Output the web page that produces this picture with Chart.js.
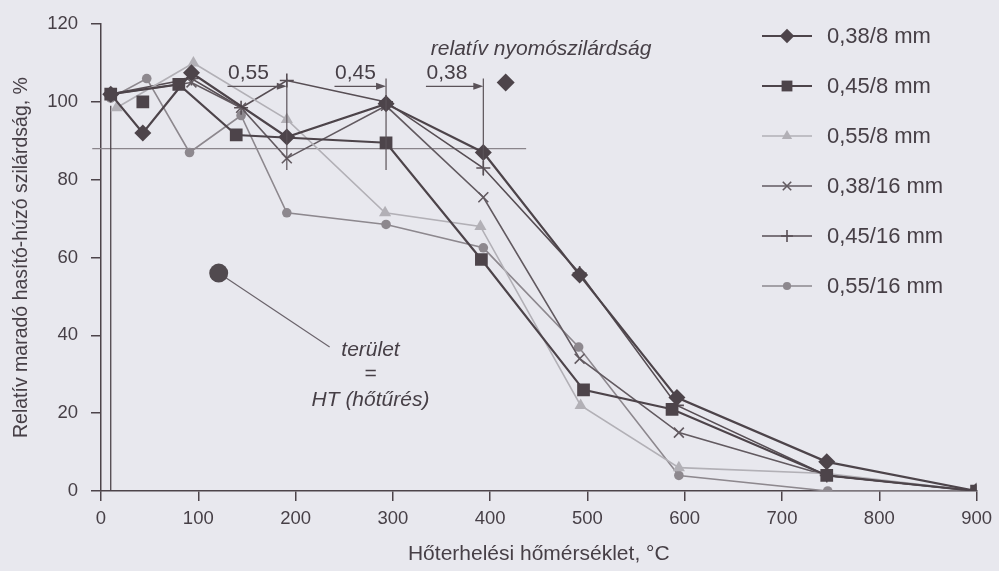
<!DOCTYPE html>
<html>
<head>
<meta charset="utf-8">
<script src="https://cdn.jsdelivr.net/npm/chart.js@4/dist/chart.umd.min.js"></script>
<style>
    html, body { margin: 0; padding: 0; background: #e8e8ee; }
    #chart { display: block; }
</style>
</head>
<body>
<canvas id="chart" width="999" height="571"></canvas>
<script>
/*eslint no-undef: 0*/

const seriesLabels = ['0,38/8 mm', '0,45/8 mm', '0,55/8 mm', '0,38/16 mm', '0,45/16 mm', '0,55/16 mm'];

// temperature (°C) and relative strength (%) per mix
const temp388 = [10, 43, 93, 191, 293, 393, 492, 592, 746, 900];
const val388 = [102, 92, 107.5, 91, 99.5, 87, 55.5, 24, 7.5, 0];

const temp458 = [10, 80, 139, 293, 391, 496, 587, 746, 900];
const val458 = [102, 104.5, 91.5, 89.5, 59.5, 26, 21, 4, 0];

const temp558 = [16, 95, 191, 292, 390, 493, 594, 746, 900];
const val558 = [98.5, 110, 95.5, 71.5, 68, 22, 6, 4.5, 0];

const temp3816 = [10, 93, 144, 191, 293, 393, 492, 594, 746, 900];
const val3816 = [102, 105, 98.5, 85.5, 99, 75.5, 34, 15, 4, 0];

const temp4516 = [10, 93, 144, 191, 293, 393, 492, 592, 746, 900];
const val4516 = [102, 106, 98.5, 105.5, 100, 83, 56, 22, 4, 0];

const temp5516 = [10, 47, 91, 144, 191, 293, 393, 491, 594, 747, 900];
const val5516 = [101, 106, 87, 96.5, 71.5, 68.5, 62.5, 37, 4, 0, 0];

// single marks: lone square, compressive strength marker, HT area marker
const loneSquare = [43, 100];
const compressiveMark = [416, 105];
const htMark = [121, 56];

const referenceLevel = 88;
const xTicks = [0, 100, 200, 300, 400, 500, 600, 700, 800, 900];
const yTicks = [0, 20, 40, 60, 80, 100, 120];

const FONT = '"Liberation Sans", Arial, sans-serif';
const TEXT = '#463f46';
const DARK = '#4d444a';

function toPoints(xs, ys) {
    return xs.map((x, i) => ({ x: x, y: ys[i] }));
}

const styles = [
    { color: DARK, pointStyle: 'rectRot', radius: 8.5, width: 2.2 },
    { color: DARK, pointStyle: 'rect', radius: 9, width: 2.2 },
    { color: '#b2b0b6', pointStyle: 'triangle', radius: 7, width: 1.6 },
    { color: '#625a60', pointStyle: 'crossRot', radius: 7, width: 1.6 },
    { color: '#574e54', pointStyle: 'cross', radius: 7, width: 1.6 },
    { color: '#8d888e', pointStyle: 'circle', radius: 4.8, width: 1.6 }
];

const seriesData = [
    toPoints(temp388, val388),
    toPoints(temp458, val458),
    toPoints(temp558, val558),
    toPoints(temp3816, val3816),
    toPoints(temp4516, val4516),
    toPoints(temp5516, val5516)
];

let datasets = [];
for (let i = seriesData.length - 1; i >= 0; i--) {
    let s = styles[i];
    datasets.push({
        label: seriesLabels[i],
        data: seriesData[i],
        showLine: true,
        borderColor: s.color,
        backgroundColor: s.color,
        borderWidth: s.width,
        pointStyle: s.pointStyle,
        pointRadius: s.radius,
        pointBorderWidth: (s.pointStyle == 'cross' || s.pointStyle == 'crossRot') ? 1.6 : 0,
        pointBorderColor: s.color,
        inLegend: true,
        order: i
    });
}
datasets.push({
    label: 'lone',
    data: [{ x: loneSquare[0], y: loneSquare[1] }],
    showLine: false,
    backgroundColor: DARK,
    pointStyle: 'rect',
    pointRadius: 9,
    pointBorderWidth: 0
});
datasets.push({
    label: 'nyomó',
    data: [{ x: compressiveMark[0], y: compressiveMark[1] }],
    showLine: false,
    backgroundColor: DARK,
    pointStyle: 'rectRot',
    pointRadius: 9,
    pointBorderWidth: 0
});
datasets.push({
    label: 'HT',
    data: [{ x: htMark[0], y: htMark[1] }],
    showLine: false,
    backgroundColor: '#514a4f',
    pointStyle: 'circle',
    pointRadius: 9.5,
    pointBorderWidth: 0
});

function arrowRight(ctx, x1, x2, y) {
    ctx.beginPath();
    ctx.moveTo(x1, y);
    ctx.lineTo(x2 - 8, y);
    ctx.stroke();
    ctx.beginPath();
    ctx.moveTo(x2, y);
    ctx.lineTo(x2 - 10, y - 3.5);
    ctx.lineTo(x2 - 10, y + 3.5);
    ctx.closePath();
    ctx.fill();
}

// guide lines under the series, labels and arrows on top, legend on the right
const notes = {
    id: 'notes',
    beforeDatasetsDraw: function (chart) {
        const ctx = chart.ctx;
        const xs = chart.scales.x;
        const ys = chart.scales.y;
        ctx.save();
        ctx.lineWidth = 1.2;
        ctx.strokeStyle = '#8a858b';
        ctx.beginPath();
        ctx.moveTo(xs.getPixelForValue(-9), ys.getPixelForValue(referenceLevel));
        ctx.lineTo(xs.getPixelForValue(437), ys.getPixelForValue(referenceLevel));
        ctx.stroke();
        ctx.strokeStyle = DARK;
        ctx.lineWidth = 1.3;
        ctx.beginPath();
        ctx.moveTo(xs.getPixelForValue(10), ys.getPixelForValue(0));
        ctx.lineTo(xs.getPixelForValue(10), ys.getPixelForValue(99));
        ctx.stroke();
        // HT leader line
        ctx.strokeStyle = '#6a636a';
        ctx.lineWidth = 1.2;
        ctx.beginPath();
        ctx.moveTo(xs.getPixelForValue(htMark[0]), ys.getPixelForValue(htMark[1]));
        ctx.lineTo(xs.getPixelForValue(235), ys.getPixelForValue(37));
        ctx.stroke();
        ctx.restore();
    },
    afterDatasetsDraw: function (chart) {
        const ctx = chart.ctx;
        const xs = chart.scales.x;
        const ys = chart.scales.y;
        ctx.save();
        ctx.strokeStyle = '#5a5258';
        ctx.fillStyle = '#5a5258';
        ctx.lineWidth = 1.2;
        const marks = [
            { text: '0,55', from: 130, to: 191, top: 106, bottom: 82.5 },
            { text: '0,45', from: 240, to: 293, top: 106, bottom: 82.5 },
            { text: '0,38', from: 334, to: 393, top: 106, bottom: 81 }
        ];
        ctx.font = '21px ' + FONT;
        ctx.textBaseline = 'middle';
        ctx.textAlign = 'center';
        for (let m of marks) {
            let xt = xs.getPixelForValue(m.to);
            ctx.beginPath();
            ctx.moveTo(xt, ys.getPixelForValue(m.top));
            ctx.lineTo(xt, ys.getPixelForValue(m.bottom));
            ctx.stroke();
            arrowRight(ctx, xs.getPixelForValue(m.from), xt, ys.getPixelForValue(104));
            ctx.fillStyle = TEXT;
            ctx.fillText(m.text, xs.getPixelForValue(m.from) + 21, ys.getPixelForValue(107.4));
            ctx.fillStyle = '#5a5258';
        }
        ctx.fillStyle = TEXT;
        ctx.font = 'italic 21px ' + FONT;
        ctx.textAlign = 'left';
        ctx.fillText('relatív nyomószilárdság', xs.getPixelForValue(339), ys.getPixelForValue(113.5));
        ctx.textAlign = 'center';
        let cx = xs.getPixelForValue(277);
        ctx.fillText('terület', cx, ys.getPixelForValue(36.2));
        ctx.fillText('=', cx, ys.getPixelForValue(30));
        ctx.fillText('HT (hőtűrés)', cx, ys.getPixelForValue(23.4));
        ctx.restore();
    },
    afterDraw: function (chart) {
        const ctx = chart.ctx;
        const items = chart.data.datasets.filter(d => d.inLegend).sort((a, b) => a.order - b.order);
        ctx.save();
        ctx.font = '22px ' + FONT;
        ctx.textBaseline = 'middle';
        ctx.textAlign = 'left';
        for (let i = 0; i < items.length; i++) {
            let d = items[i];
            let y = 36 + i * 50;
            ctx.strokeStyle = d.borderColor;
            ctx.fillStyle = d.backgroundColor;
            ctx.lineWidth = d.borderWidth * 0.8;
            ctx.beginPath();
            ctx.moveTo(762, y);
            ctx.lineTo(812, y);
            ctx.stroke();
            ctx.lineWidth = 1.6;
            Chart.helpers.drawPoint(ctx, {
                pointStyle: d.pointStyle,
                radius: d.pointRadius * 0.85,
                rotation: 0,
                borderWidth: d.pointBorderWidth
            }, 787, y);
            ctx.fillStyle = TEXT;
            ctx.fillText(d.label, 827, y + 1);
        }
        ctx.restore();
    }
};

const ctx = document.getElementById('chart').getContext('2d');
window.strengthChart = new Chart(ctx, {
    type: 'scatter',
    data: { datasets: datasets },
    plugins: [notes],
    options: {
        responsive: false,
        animation: false,
        devicePixelRatio: 1,
        layout: { padding: { top: 17, right: 17, left: 0, bottom: 0 } },
        plugins: {
            legend: { display: false },
            tooltip: { enabled: false }
        },
        scales: {
            x: {
                type: 'linear',
                min: 0,
                max: 900,
                afterBuildTicks: function (scale) {
                    scale.ticks = xTicks.map(v => ({ value: v }));
                },
                afterFit: function (scale) {
                    scale.height = 80;
                },
                ticks: { color: TEXT, font: { family: FONT, size: 18.5 }, padding: 7 },
                grid: { drawOnChartArea: false, drawTicks: true, tickLength: 10, color: DARK, lineWidth: 1.5 },
                border: { display: true, color: DARK, width: 1.5 },
                title: {
                    display: true,
                    text: 'Hőterhelési hőmérséklet, °C',
                    color: TEXT,
                    font: { family: FONT, size: 21 },
                    padding: { top: 0, bottom: 4 }
                }
            },
            y: {
                type: 'linear',
                min: 0,
                max: 120,
                afterBuildTicks: function (scale) {
                    scale.ticks = yTicks.map(v => ({ value: v }));
                },
                afterFit: function (scale) {
                    scale.width = 101;
                },
                ticks: { color: TEXT, font: { family: FONT, size: 18.5 }, padding: 13 },
                grid: { drawOnChartArea: false, drawTicks: true, tickLength: 10, color: DARK, lineWidth: 1.5 },
                border: { display: true, color: DARK, width: 1.5 },
                title: {
                    display: true,
                    text: 'Relatív maradó hasító-húzó szilárdság, %',
                    color: TEXT,
                    font: { family: FONT, size: 19.5 },
                    padding: { top: 10, bottom: 0 }
                }
            }
        }
    }
});
</script>
</body>
</html>
